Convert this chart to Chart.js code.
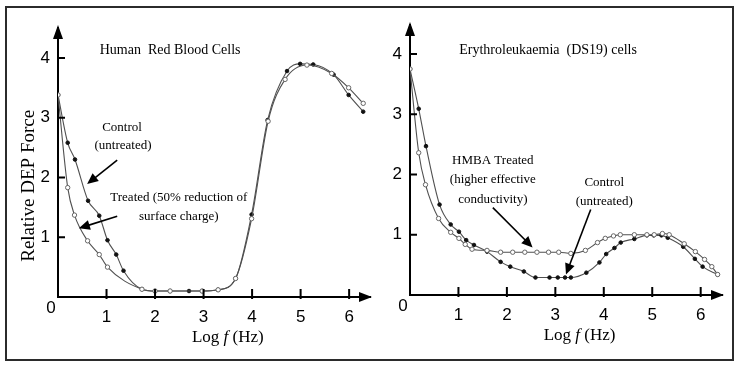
<!DOCTYPE html>
<html>
<head>
<meta charset="utf-8">
<script src="https://cdn.jsdelivr.net/npm/chart.js@4.4.0/dist/chart.umd.min.js"></script>
<style>
  body { margin: 0; background: #fff; }
  #wrap { position: relative; width: 739px; height: 366px; }
  #frame { position: absolute; left: 5px; top: 6px; width: 725px; height: 351px; border: 2px solid #2b2b2b; }
  canvas { position: absolute; top: 0; }
</style>
</head>
<body>
<div id="wrap">
  <div id="frame"></div>
  <canvas id="rbc" width="375" height="366" style="left:0"></canvas>
  <canvas id="ds19" width="364" height="366" style="left:375px"></canvas>
</div>
<script>
// Human red blood cells (Log f, relative DEP force)
const rbcControlX = [0, 0.20, 0.35, 0.62, 0.85, 1.02, 1.20, 1.35, 1.73, 2.0, 2.31, 2.70, 2.97, 3.30, 3.66, 3.99, 4.32, 4.72, 4.99, 5.26, 5.68, 5.99, 6.29];
const rbcControlY = [3.38, 2.58, 2.30, 1.61, 1.36, 0.95, 0.71, 0.44, 0.13, 0.10, 0.10, 0.10, 0.10, 0.12, 0.31, 1.38, 2.96, 3.78, 3.90, 3.89, 3.72, 3.38, 3.10];
const rbcTreatedX = [0, 0.20, 0.34, 0.61, 0.85, 1.02, 1.73, 2.0, 2.31, 2.97, 3.30, 3.66, 3.99, 4.33, 4.68, 5.13, 5.64, 5.99, 6.29];
const rbcTreatedY = [3.38, 1.83, 1.37, 0.94, 0.71, 0.50, 0.13, 0.10, 0.10, 0.10, 0.12, 0.31, 1.31, 2.94, 3.64, 3.88, 3.74, 3.50, 3.24];

// Erythroleukaemia (DS19) cells
const dsControlX = [0, 0.18, 0.33, 0.61, 0.84, 1.01, 1.16, 1.32, 1.59, 1.87, 2.07, 2.35, 2.59, 2.88, 3.05, 3.20, 3.32, 3.64, 3.91, 4.05, 4.22, 4.35, 4.63, 4.89, 5.03, 5.19, 5.32, 5.64, 5.88, 6.04, 6.35];
const dsControlY = [3.75, 3.09, 2.47, 1.50, 1.17, 1.05, 0.91, 0.83, 0.72, 0.55, 0.47, 0.39, 0.29, 0.29, 0.29, 0.29, 0.29, 0.37, 0.54, 0.68, 0.78, 0.87, 0.93, 0.99, 0.99, 0.99, 0.95, 0.80, 0.60, 0.47, 0.34];
const dsTreatedX = [0, 0.18, 0.32, 0.59, 0.84, 1.01, 1.14, 1.28, 1.59, 1.87, 2.12, 2.37, 2.62, 2.86, 3.07, 3.32, 3.62, 3.87, 4.03, 4.20, 4.34, 4.63, 4.89, 5.04, 5.21, 5.35, 5.66, 5.89, 6.08, 6.23, 6.35];
const dsTreatedY = [3.75, 2.36, 1.83, 1.27, 1.04, 0.94, 0.84, 0.76, 0.74, 0.71, 0.71, 0.71, 0.71, 0.71, 0.71, 0.69, 0.74, 0.87, 0.94, 0.98, 1.00, 1.00, 1.00, 1.00, 1.02, 1.00, 0.85, 0.72, 0.59, 0.47, 0.34];

const xTicks = [1, 2, 3, 4, 5, 6];
const yTicks = [1, 2, 3, 4];

const SERIF = '"Liberation Serif", "Times New Roman", serif';
const SANS = '"Liberation Sans", Arial, sans-serif';

function series(xs, ys, filled) {
    return {
        data: xs.map((v, i) => ({ x: v, y: ys[i] })),
        borderColor: '#505050',
        borderWidth: 1.1,
        pointRadius: filled ? 1.8 : 2.2,
        pointBackgroundColor: filled ? '#111' : '#fff',
        pointBorderColor: filled ? '#111' : '#666',
        pointBorderWidth: 1,
        cubicInterpolationMode: 'monotone',
        fill: false,
    };
}

// arrows, inner tick marks, titles and callouts
const decorations = {
    id: 'decorations',
    afterDraw(chart, args, opts) {
        const { ctx, chartArea: a, scales: { x, y } } = chart;
        ctx.save();
        ctx.fillStyle = '#000';
        ctx.strokeStyle = '#000';

        // axis arrow heads
        ctx.beginPath();
        ctx.moveTo(a.left, a.top - 3);
        ctx.lineTo(a.left - 5, a.top + 11);
        ctx.lineTo(a.left + 5, a.top + 11);
        ctx.closePath();
        ctx.fill();
        ctx.beginPath();
        ctx.moveTo(a.right + 2, a.bottom);
        ctx.lineTo(a.right - 11, a.bottom - 5);
        ctx.lineTo(a.right - 11, a.bottom + 5);
        ctx.closePath();
        ctx.fill();

        // tick marks
        ctx.lineWidth = 2;
        ctx.beginPath();
        xTicks.forEach(v => {
            const px = x.getPixelForValue(v);
            ctx.moveTo(px, a.bottom - 8);
            ctx.lineTo(px, a.bottom + 2);
        });
        yTicks.forEach(v => {
            const py = y.getPixelForValue(v);
            ctx.moveTo(a.left, py);
            ctx.lineTo(a.left + 7, py);
        });
        ctx.stroke();

        ctx.textAlign = 'center';
        ctx.textBaseline = 'middle';
        ctx.font = '17px ' + SANS;
        ctx.fillText('0', a.left - 7, a.bottom + 11);

        // x axis title with italic f
        const cy = a.bottom + 41;
        const cx = x.getPixelForValue(3.5);
        const parts = [['Log ', '17px '], ['f', 'italic 17px '], [' (Hz)', '17px ']];
        let total = 0;
        parts.forEach(p => { ctx.font = p[1] + SERIF; total += ctx.measureText(p[0]).width; });
        let pos = cx - total / 2;
        ctx.textAlign = 'left';
        parts.forEach(p => {
            ctx.font = p[1] + SERIF;
            ctx.fillText(p[0], pos, cy);
            pos += ctx.measureText(p[0]).width;
        });

        // y axis title
        if (opts.yTitle) {
            ctx.save();
            ctx.translate(a.left - 29, y.getPixelForValue(1.86));
            ctx.rotate(-Math.PI / 2);
            ctx.textAlign = 'center';
            ctx.font = '19px ' + SERIF;
            ctx.fillText(opts.yTitle, 0, 0);
            ctx.restore();
        }

        // panel title
        ctx.textAlign = 'center';
        ctx.font = '14px ' + SERIF;
        ctx.fillText(opts.title[0], x.getPixelForValue(opts.title[1]), y.getPixelForValue(opts.title[2]));

        // callouts
        ctx.font = '13px ' + SERIF;
        opts.notes.forEach(n => {
            ctx.fillText(n[0], x.getPixelForValue(n[1]), y.getPixelForValue(n[2]));
        });
        opts.arrows.forEach(r => {
            const x0 = x.getPixelForValue(r[0]), y0 = y.getPixelForValue(r[1]);
            const x1 = x.getPixelForValue(r[2]), y1 = y.getPixelForValue(r[3]);
            const ang = Math.atan2(y1 - y0, x1 - x0);
            ctx.lineWidth = 1.6;
            ctx.beginPath();
            ctx.moveTo(x0, y0);
            ctx.lineTo(x1 - 8 * Math.cos(ang), y1 - 8 * Math.sin(ang));
            ctx.stroke();
            ctx.beginPath();
            ctx.moveTo(x1, y1);
            ctx.lineTo(x1 - 11 * Math.cos(ang) + 5 * Math.sin(ang), y1 - 11 * Math.sin(ang) - 5 * Math.cos(ang));
            ctx.lineTo(x1 - 11 * Math.cos(ang) - 5 * Math.sin(ang), y1 - 11 * Math.sin(ang) + 5 * Math.cos(ang));
            ctx.closePath();
            ctx.fill();
        });
        ctx.restore();
    }
};

function makeChart(id, datasets, box, decor) {
    return new Chart(document.getElementById(id), {
        type: 'line',
        data: { datasets: datasets },
        plugins: [decorations],
        options: {
            responsive: false,
            animation: false,
            layout: { padding: { left: 0, right: box.right, top: box.top, bottom: 0 } },
            plugins: {
                legend: { display: false },
                tooltip: { enabled: false },
                decorations: decor,
            },
            scales: {
                x: {
                    type: 'linear',
                    min: 0,
                    max: box.xMax,
                    afterFit: s => { s.height = box.xHeight; },
                    afterBuildTicks: s => { s.ticks = xTicks.map(v => ({ value: v })); },
                    grid: { display: true, drawOnChartArea: false, drawTicks: false },
                    border: { display: true, color: '#000', width: 2 },
                    ticks: { color: '#000', font: { family: SANS, size: 17 }, padding: 10, maxRotation: 0 },
                },
                y: {
                    type: 'linear',
                    min: 0,
                    max: box.yMax,
                    afterFit: s => { s.width = box.yWidth; },
                    afterBuildTicks: s => { s.ticks = yTicks.map(v => ({ value: v })); },
                    grid: { display: true, drawOnChartArea: false, drawTicks: false },
                    border: { display: true, color: '#000', width: 2 },
                    ticks: { color: '#000', font: { family: SANS, size: 17 }, padding: 8 },
                },
            },
        },
    });
}

makeChart('rbc', [
    series(rbcTreatedX, rbcTreatedY, false),
    series(rbcControlX, rbcControlY, true),
], { right: 5, top: 28, xHeight: 69, yWidth: 58, xMax: 6.43, yMax: 4.5 }, {
    yTitle: 'Relative DEP Force',
    title: ['Human  Red Blood Cells', 2.31, 4.13],
    notes: [
        ['Control', 1.32, 2.84],
        ['(untreated)', 1.34, 2.53],
        ['Treated (50% reduction of', 2.49, 1.67],
        ['surface charge)', 2.49, 1.35],
    ],
    arrows: [
        [1.22, 2.29, 0.60, 1.89],
        [1.22, 1.35, 0.43, 1.15],
    ],
});

makeChart('ds19', [
    series(dsTreatedX, dsTreatedY, false),
    series(dsControlX, dsControlY, true),
], { right: 17, top: 25, xHeight: 71, yWidth: 35, xMax: 6.44, yMax: 4.48 }, {
    title: ['Erythroleukaemia  (DS19) cells', 2.85, 4.06],
    notes: [
        ['HMBA Treated', 1.71, 2.23],
        ['(higher effective', 1.71, 1.92],
        ['conductivity)', 1.71, 1.59],
        ['Control', 4.01, 1.87],
        ['(untreated)', 4.01, 1.55],
    ],
    arrows: [
        [1.71, 1.45, 2.53, 0.79],
        [3.73, 1.42, 3.22, 0.34],
    ],
});
</script>
</body>
</html>
